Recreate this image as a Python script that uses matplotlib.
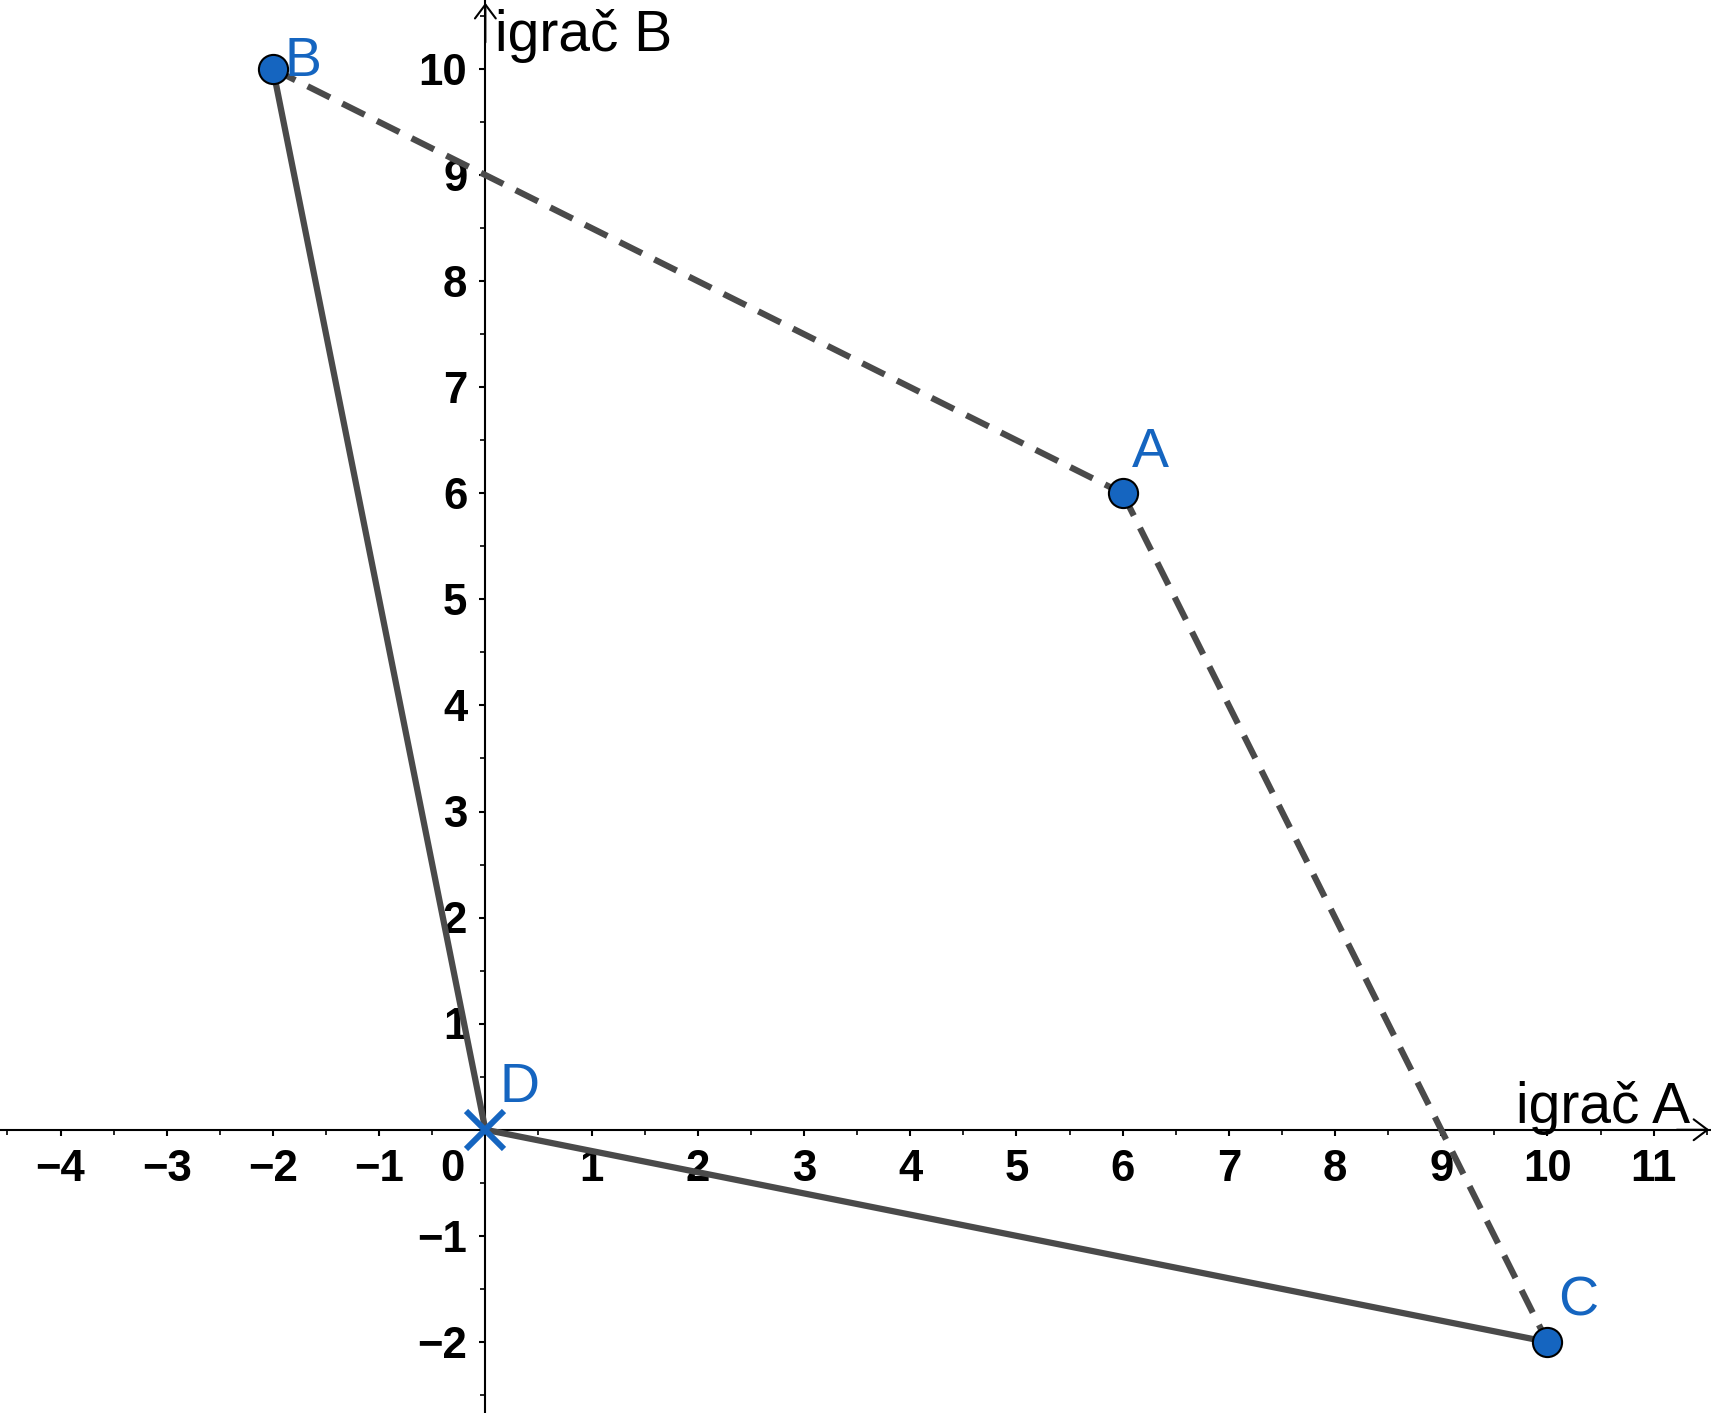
import matplotlib
matplotlib.use("Agg")
import matplotlib.pyplot as plt
import matplotlib.transforms as mtransforms
from matplotlib.ticker import MultipleLocator, FixedLocator, FuncFormatter

plt.rcParams['font.family'] = ['Liberation Sans', 'DejaVu Sans']

# points of the game
names = ['A', 'B', 'C', 'D']
px = [6, -2, 10, 0]
py = [6, 10, -2, 0]

# solid edges and dashed edges (by point name)
solid = [('B', 'D'), ('D', 'C')]
dashed = [('B', 'A'), ('A', 'C')]

xticks = [-4, -3, -2, -1, 1, 2, 3, 4, 5, 6, 7, 8, 9, 10, 11]
yticks = [-2, -1, 1, 2, 3, 4, 5, 6, 7, 8, 9, 10]

blue = '#1565C0'
grey = '#4a4a4a'

fig = plt.figure(figsize=(17.11, 14.13), dpi=100)
ax = fig.add_axes([0, 0, 1, 1])
ax.set_xlim(-4.57, 11.54)
ax.set_ylim(-2.67, 10.65)

pos = {n: (x, y) for n, x, y in zip(names, px, py)}

for a, b in solid:
    ax.plot([pos[a][0], pos[b][0]], [pos[a][1], pos[b][1]], color=grey,
            lw=4.5, solid_capstyle='butt', zorder=3)
for a, b in dashed:
    ax.plot([pos[a][0], pos[b][0]], [pos[a][1], pos[b][1]], color=grey,
            lw=4.5, dashes=(4, 2.2), dash_capstyle='butt', zorder=3)

for n in names:
    x, y = pos[n]
    if n == 'D':
        ax.plot(x, y, 'x', color=blue, ms=28, mew=4.3, zorder=4)
    else:
        ax.plot(x, y, 'o', color=blue, ms=21, mec='black', mew=1.5, zorder=4)

label_off = {'A': (7, 19), 'B': (8, -5), 'C': (8, 19), 'D': (10, 20)}
for n in names:
    ax.annotate(n, pos[n], xytext=label_off[n], textcoords='offset points',
                ha='left', va='baseline', fontsize=40, color=blue, zorder=5)

# axes through the origin
for s in ['top', 'right']:
    ax.spines[s].set_visible(False)
ax.spines['left'].set_position(('data', 0))
ax.spines['bottom'].set_position(('data', 0))
ax.spines['left'].set_linewidth(1.5)
ax.spines['bottom'].set_linewidth(1.5)

ax.xaxis.set_major_locator(FixedLocator(xticks))
ax.yaxis.set_major_locator(FixedLocator(yticks))
ax.xaxis.set_minor_locator(MultipleLocator(0.5))
ax.yaxis.set_minor_locator(MultipleLocator(0.5))
fmt = FuncFormatter(lambda v, p: ('\u2212%d' % -v) if v < 0 else '%d' % v)
ax.xaxis.set_major_formatter(fmt)
ax.yaxis.set_major_formatter(fmt)
ax.tick_params(axis='x', which='major', direction='out', length=4, width=1.5,
               pad=10, labelsize=31.5)
ax.tick_params(axis='y', which='major', direction='out', length=4, width=1.5,
               pad=9, labelsize=31.5)
ax.tick_params(which='minor', direction='out', length=3.5, width=1.2)
shift = mtransforms.ScaledTranslation(0, -3 / 72, fig.dpi_scale_trans)
for t in ax.get_xticklabels():
    t.set_fontweight('bold')
for t in ax.get_yticklabels():
    t.set_fontweight('bold')
    t.set_va('center')
    t.set_transform(t.get_transform() + shift)

ax.annotate('0', (0, 0), xytext=(-15, -13.5), textcoords='offset points',
            ha='right', va='top', fontsize=31.5, fontweight='bold')

# arrow heads
ax.annotate('', xy=(0.999, 0), xycoords=('axes fraction', 'data'),
            xytext=(0.98, 0), textcoords=('axes fraction', 'data'),
            arrowprops=dict(arrowstyle='->,head_length=1.0,head_width=0.75',
                            mutation_scale=10, lw=1.5, color='black',
                            shrinkA=0, shrinkB=0))
ax.annotate('', xy=(0, 0.998), xycoords=('data', 'axes fraction'),
            xytext=(0, 0.97), textcoords=('data', 'axes fraction'),
            arrowprops=dict(arrowstyle='->,head_length=1.0,head_width=0.75',
                            mutation_scale=10, lw=1.5, color='black',
                            shrinkA=0, shrinkB=0))

ax.annotate('igrač A', xy=(1, 0), xycoords=('axes fraction', 'data'),
            xytext=(-15, 5), textcoords='offset points',
            ha='right', va='baseline', fontsize=41)
ax.annotate('igrač B', xy=(0, 1), xycoords=('data', 'axes fraction'),
            xytext=(7, -37), textcoords='offset points',
            ha='left', va='baseline', fontsize=41)

fig.savefig('out.png', dpi=100)
